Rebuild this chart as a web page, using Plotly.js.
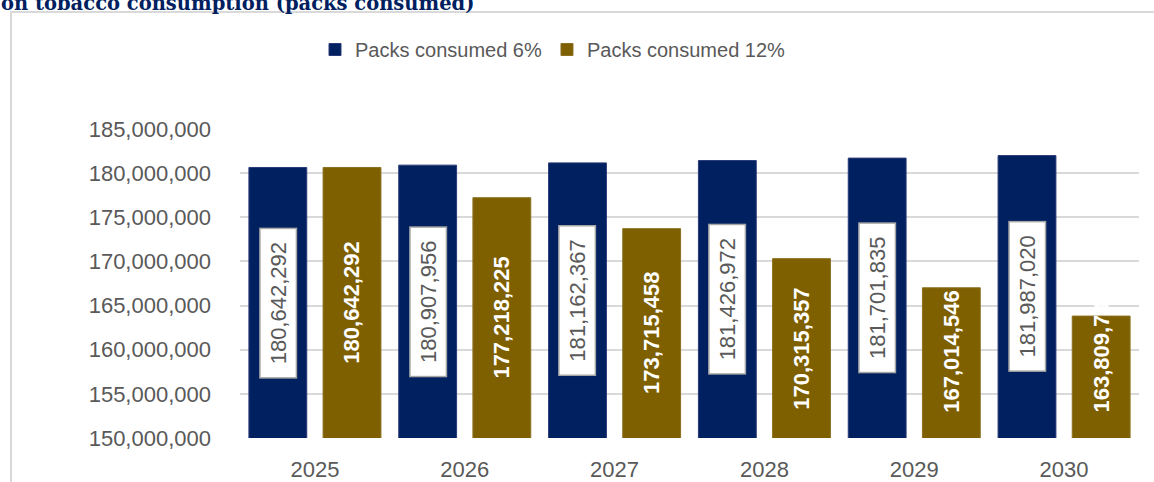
<!DOCTYPE html>
<html>
<head>
<meta charset="utf-8">
<script src="https://cdn.plot.ly/plotly-3.0.1.min.js"></script>
<style>
html,body{margin:0;padding:0;background:#fff;}
#chart{width:1154px;height:482px;}
</style>
</head>
<body>
<div id="chart"></div>
<script>
const years = ['2025','2026','2027','2028','2029','2030'];
const packs6 = [180642292, 180907956, 181162367, 181426972, 181701835, 181987020];
const packs12 = [180642292, 177218225, 173715458, 170315357, 167014546, 163809735];
const seriesNames = ['Packs consumed 6%', 'Packs consumed 12%'];
const titleText = 'on tobacco consumption (packs consumed)';

const NAVY = '#002060', GOLD = '#7F6000', GREY = '#595959';
const yMin = 150000000, yMax = 185000000;

const fmt = v => v.toLocaleString('en-US');

const t6 = {
  type: 'bar', name: seriesNames[0], x: years, y: packs6,
  marker: {color: NAVY, line: {color: '#2a3a78', width: 1}},
  hoverinfo: 'skip'
};
const t12 = {
  type: 'bar', name: seriesNames[1], x: years, y: packs12,
  marker: {color: GOLD, line: {color: '#8a7020', width: 1}},
  hoverinfo: 'skip'
};

const L = 240, R = 15, T = 129, B = 44;
const W = 1154, H = 482;
const pw = W - L - R, ph = H - T - B;
const px = x => (x - L) / pw;
const py = y => (H - B - y) / ph;

const annotations = [];
packs6.forEach((v, i) => annotations.push({
  x: i, y: (yMin + v) / 2, xref: 'x', yref: 'y',
  xshift: -37, text: fmt(v), textangle: -90, showarrow: false,
  width: 146, height: 33, align: 'center', valign: 'middle',
  font: {family: 'Liberation Sans, Arial, sans-serif', size: 22, color: GREY},
  bgcolor: '#ffffff', bordercolor: '#a6a6a6', borderwidth: 1.5, borderpad: 1
}));
const labelFloor = yMin + 0.28 * (yMax - yMin);
packs12.forEach((v, i) => annotations.push({
  x: i, y: Math.max((yMin + v) / 2, labelFloor), xref: 'x', yref: 'y',
  xshift: 37, text: '<b>' + fmt(v) + '</b>', textangle: -90, showarrow: false,
  font: {family: 'Liberation Sans, Arial, sans-serif', size: 22, color: '#ffffff'}
}));
annotations.push({
  x: px(-1), y: py(17), xref: 'paper', yref: 'paper', xanchor: 'left', yanchor: 'bottom',
  text: '<b>' + titleText + '</b>', showarrow: false,
  font: {family: 'DejaVu Serif, serif', size: 19.5, color: '#002060'}
});

const layout = {
  width: W, height: H,
  margin: {l: L, r: R, t: T, b: B},
  paper_bgcolor: '#ffffff', plot_bgcolor: '#ffffff',
  barmode: 'group', bargap: 0.01, bargroupgap: 0.22,
  showlegend: true,
  legend: {
    orientation: 'h', x: px(315), xanchor: 'left', y: py(30), yanchor: 'top',
    font: {family: 'Liberation Sans, Arial, sans-serif', size: 20, color: GREY},
    itemclick: false, traceorder: 'normal'
  },
  xaxis: {
    type: 'category', range: [-0.5, 5.5], autorange: false,
    showgrid: false, showline: false, zeroline: false,
    ticks: '', ticklabelstandoff: 16,
    tickfont: {family: 'Liberation Sans, Arial, sans-serif', size: 22, color: GREY}
  },
  yaxis: {
    range: [yMin, yMax], autorange: false, dtick: 5000000, tickformat: ',d',
    showgrid: true, gridcolor: '#d9d9d9', gridwidth: 2,
    zeroline: false, showline: false, ticks: '', ticklabelstandoff: 28,
    tickfont: {family: 'Liberation Sans, Arial, sans-serif', size: 22, color: GREY}
  },
  shapes: [{
    type: 'rect', xref: 'paper', yref: 'paper', layer: 'below',
    x0: px(11), x1: px(1170), y0: py(500), y1: py(12),
    line: {color: '#d9d9d9', width: 2}, fillcolor: 'rgba(0,0,0,0)'
  }],
  annotations: annotations
};

Plotly.newPlot('chart', [t6, t12], layout, {displayModeBar: false, staticPlot: true});
</script>
</body>
</html>
